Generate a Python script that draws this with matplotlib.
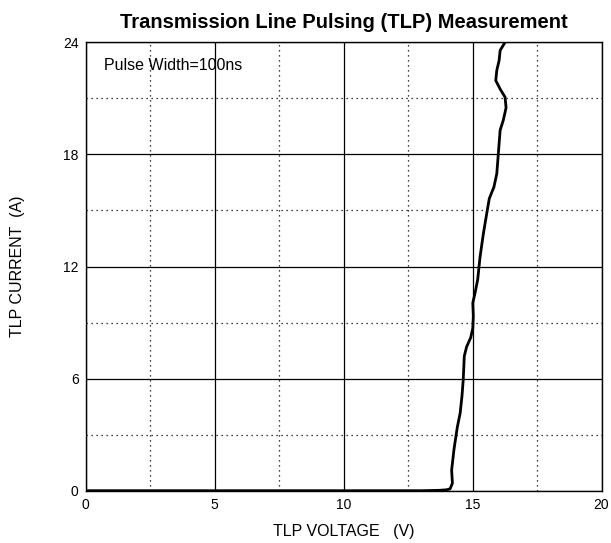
import numpy as np
from matplotlib import pyplot as plt
from matplotlib.ticker import MultipleLocator

plt.rcParams['font.family'] = ['Liberation Sans', 'DejaVu Sans']

# TLP curve
voltage = [0.0, 5.0, 10.0, 13.0, 13.7, 14.0, 14.13, 14.22, 14.19, 14.28, 14.41, 14.52, 14.59,
           14.64, 14.68, 14.77, 14.93, 15.01, 15.03, 15.01, 15.1, 15.2, 15.29, 15.42,
           15.57, 15.65, 15.83, 15.94, 16.0, 16.07, 16.19, 16.3, 16.26, 16.07, 15.9,
           15.94, 16.03, 16.07, 16.26]
current = [0.0, 0.0, 0.0, 0.0, 0.02, 0.05, 0.1, 0.4, 1.1, 2.2, 3.4, 4.15, 5.05,
           5.95, 7.2, 7.7, 8.2, 8.7, 9.35, 10.05, 10.6, 11.3, 12.5, 13.76,
           15.0, 15.64, 16.26, 16.97, 18.04, 19.3, 19.82, 20.5, 21.07, 21.5, 21.96,
           22.5, 23.03, 23.57, 24.0]

x_ticks = [0, 5, 10, 15, 20]
y_ticks = [0, 6, 12, 18, 24]

fig = plt.figure(figsize=(6.11, 5.43), dpi=100)
ax = fig.add_axes([0.140, 0.0963, 0.8445, 0.8257])

ax.plot(voltage, current, color='black', linewidth=2.0, solid_joinstyle='round')

ax.set_xlim(0, 20)
ax.set_ylim(0, 24)
ax.set_xticks(x_ticks)
ax.set_yticks(y_ticks)
ax.xaxis.set_minor_locator(MultipleLocator(2.5))
ax.yaxis.set_minor_locator(MultipleLocator(3))
ax.grid(which='major', color='black', linestyle='-', linewidth=0.9)
ax.grid(which='minor', color='black', linestyle=(0, (1, 3)), linewidth=0.9)
ax.tick_params(which='both', length=0, labelsize=10, pad=5)
ax.set_axisbelow(True)
for s in ax.spines.values():
    s.set_linewidth(1.0)

ax.set_title('Transmission Line Pulsing (TLP) Measurement', fontsize=14.5,
             fontweight='bold', pad=10)
ax.set_xlabel('TLP VOLTAGE   (V)', fontsize=11.5, labelpad=9)
ax.set_ylabel('TLP CURRENT  (A)', fontsize=11.5)
ax.yaxis.set_label_coords(-0.118, 0.5)
ax.text(0.72, 22.76, 'Pulse Width=100ns', fontsize=11.5, va='center', ha='left')

plt.savefig('out.png', dpi=100)
